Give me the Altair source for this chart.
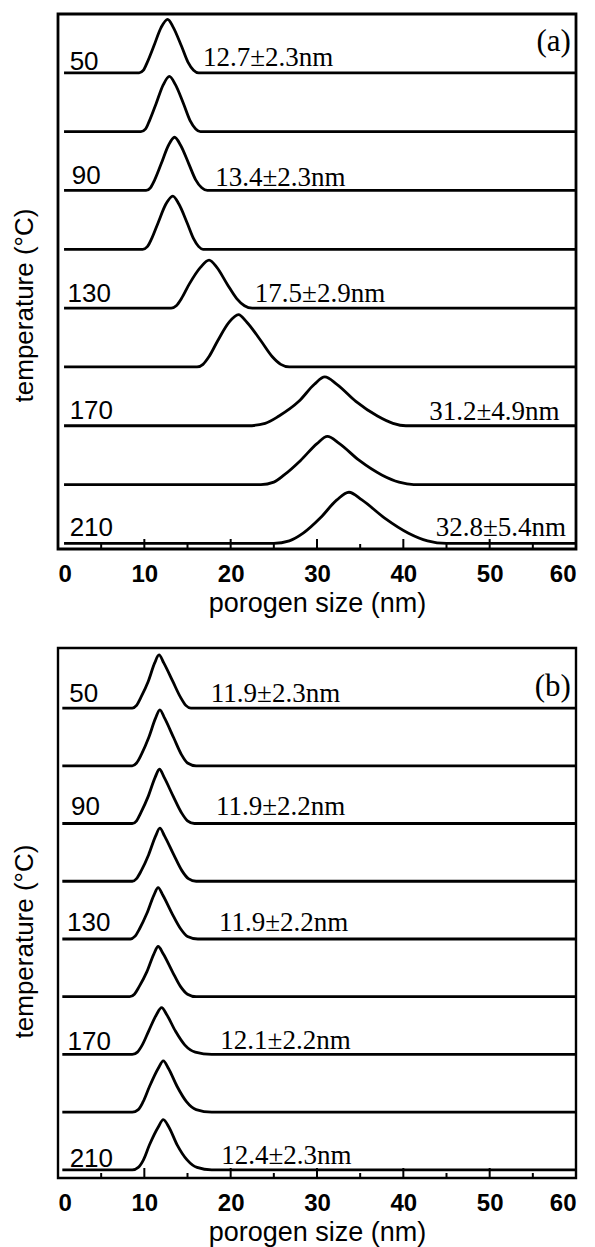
import altair as alt
import pandas as pd

# ---------------- data ----------------
offsets = [8, 7, 6, 5, 4, 3, 2, 1, 0]
rel_h = [0, 0.05, 0.2, 0.5, 0.85, 1, 0.85, 0.5, 0.2, 0.05, 0]

# panel (a): x positions (nm) of each curve at the relative heights above
xs_a = [
    [9.4, 9.9, 10.35, 11.1, 11.95, 12.7, 13.35, 14.3, 15.05, 15.7, 16.3],
    [9.6, 10.15, 10.6, 11.35, 12.2, 12.9, 13.6, 14.55, 15.3, 15.95, 16.5],
    [10.2, 10.7, 11.2, 11.95, 12.8, 13.5, 14.2, 15.15, 15.95, 16.65, 17.3],
    [9.8, 10.35, 10.85, 11.6, 12.5, 13.3, 14.0, 14.95, 15.7, 16.3, 16.8],
    [13.1, 13.7, 14.3, 15.2, 16.5, 17.5, 18.4, 19.6, 20.7, 21.6, 22.5],
    [16.1, 16.8, 17.5, 18.5, 19.8, 20.9, 21.9, 23.5, 24.8, 25.8, 26.8],
    [22.0, 24.0, 25.6, 27.9, 29.7, 30.9, 32.3, 34.5, 37.0, 38.8, 40.3],
    [23.5, 25.0, 26.2, 28.1, 30.0, 31.2, 32.6, 34.9, 37.5, 39.5, 41.2],
    [25.0, 26.8, 28.4, 30.4, 32.3, 33.7, 35.2, 37.8, 40.6, 42.8, 45.0],
]
peak_a = [0.91, 0.94, 0.905, 0.905, 0.815, 0.89, 0.83, 0.82, 0.87]
start_a = 0.7

xs_b = [
    [8.6, 9.1, 9.6, 10.45, 11.2, 11.7, 12.25, 13.3, 14.2, 14.8, 15.4],
    [8.6, 9.1, 9.65, 10.5, 11.3, 11.8, 12.35, 13.4, 14.3, 15.0, 16.0],
    [8.6, 9.1, 9.6, 10.45, 11.25, 11.75, 12.3, 13.35, 14.3, 15.0, 15.8],
    [8.6, 9.1, 9.65, 10.5, 11.3, 11.8, 12.35, 13.4, 14.35, 15.1, 16.0],
    [8.4, 8.9, 9.45, 10.3, 11.1, 11.6, 12.15, 13.2, 14.2, 15.0, 16.2],
    [8.3, 8.85, 9.4, 10.3, 11.1, 11.6, 12.2, 13.25, 14.2, 15.0, 16.0],
    [8.6, 9.2, 9.75, 10.5, 11.4, 12.0, 12.6, 13.6, 14.7, 15.9, 17.8],
    [8.6, 9.3, 9.85, 10.6, 11.6, 12.2, 12.8, 13.8, 14.9, 16.0, 17.8],
    [8.6, 9.3, 9.9, 10.6, 11.6, 12.2, 12.85, 13.8, 14.95, 16.1, 17.8],
]
peak_b = [0.92, 0.97, 0.94, 0.92, 0.89, 0.87, 0.81, 0.89, 0.87]
start_b = 0.5

temps = ["50", "90", "130", "170", "210"]
temp_x_a = [1.35, 1.6, 1.1, 1.35, 1.35]
temp_y_a = [8.05, 6.11, 4.1, 2.12, 0.13]
temp_x_b = [1.3, 1.5, 1.05, 1.1, 1.35]
temp_y_b = [8.1, 6.14, 4.14, 2.07, 0.05]

ann_a = ["12.7±2.3nm", "13.4±2.3nm", "17.5±2.9nm", "31.2±4.9nm", "32.8±5.4nm"]
ann_x_a = [16.8, 18.2, 22.8, 43.0, 43.75]
ann_y_a = [8.12, 6.08, 4.1, 2.1, 0.13]
ann_b = ["11.9±2.3nm", "11.9±2.2nm", "11.9±2.2nm", "12.1±2.2nm", "12.4±2.3nm"]
ann_x_b = [17.7, 18.3, 18.65, 18.8, 18.9]
ann_y_b = [8.1, 6.14, 4.13, 2.09, 0.1]

panel_tags = ["(a)", "(b)"]
tag_x = [59.4, 59.4]
tag_y = [8.37, 8.2]

x_ticks_major = [0, 10, 20, 30, 40, 50, 60]
x_ticks_minor = [5, 15, 25, 35, 45, 55]

W = 518


def curves_df(xs_list, peaks, start):
    rows = []
    for i, (xs, h) in enumerate(zip(xs_list, peaks)):
        pts = [(start, 0.0)] + [(x, h * r) for x, r in zip(xs, rel_h)] + [(60.0, 0.0)]
        for k, (x, y) in enumerate(pts):
            rows.append({"curve": i, "k": k, "x": x, "y": offsets[i] + y})
    return pd.DataFrame(rows)


def panel(xs_list, peaks, start, tx, ty, ax, ay, atext, tag, tgx, tgy,
          ydom, H, frame_w, title_y):
    xscale = alt.Scale(domain=[0, 60], nice=False, zero=False)
    yscale = alt.Scale(domain=ydom, nice=False, zero=False)
    xaxis = alt.Axis(values=x_ticks_major, format="d", ticks=False, domain=False,
                     grid=False, labelFont="Liberation Sans", labelFontSize=24,
                     labelFontWeight="bold",
                     labelColor="black", labelPadding=13,
                     title="porogen size (nm)", titleFont="Liberation Sans",
                     titleFontSize=27, titleFontWeight="normal", titleColor="black",
                     titlePadding=4)
    yaxis = alt.Axis(labels=False, ticks=False, domain=False, grid=False,
                     title="temperature (°C)", titleFont="Liberation Sans",
                     titleFontSize=26, titleFontWeight="normal", titleColor="black",
                     titleX=-21, titleY=title_y)
    base_x = alt.X("x:Q", scale=xscale, axis=xaxis)
    base_y = alt.Y("y:Q", scale=yscale, axis=yaxis)

    lines = alt.Chart(curves_df(xs_list, peaks, start)).mark_line(
        color="black", strokeWidth=2.8, interpolate="monotone"
    ).encode(x=base_x, y=base_y, detail="curve:N", order="k:Q")

    tdf = pd.DataFrame({"x": tx, "y": ty, "t": temps})
    tlab = alt.Chart(tdf).mark_text(
        align="left", baseline="alphabetic", font="Liberation Sans",
        fontSize=26, color="black"
    ).encode(x="x:Q", y="y:Q", text="t:N")

    adf = pd.DataFrame({"x": ax, "y": ay, "t": atext})
    alab = alt.Chart(adf).mark_text(
        align="left", baseline="alphabetic", font="Liberation Serif",
        fontSize=27, color="black"
    ).encode(x="x:Q", y="y:Q", text="t:N")

    gdf = pd.DataFrame({"x": [tgx], "y": [tgy], "t": [tag]})
    glab = alt.Chart(gdf).mark_text(
        align="right", baseline="alphabetic", font="Liberation Serif",
        fontSize=31, color="black"
    ).encode(x="x:Q", y="y:Q", text="t:N")

    major = alt.Chart(pd.DataFrame({"x": x_ticks_major})).mark_rule(
        color="black", strokeWidth=2
    ).encode(x="x:Q", y=alt.value(H), y2=alt.value(H - 10))
    minor = alt.Chart(pd.DataFrame({"x": x_ticks_minor})).mark_rule(
        color="black", strokeWidth=2
    ).encode(x="x:Q", y=alt.value(H), y2=alt.value(H - 5))

    return alt.layer(lines, major, minor, tlab, alab, glab).properties(
        width=W, height=H,
        view=alt.ViewBackground(stroke="black", strokeWidth=frame_w),
    )


pa = panel(xs_a, peak_a, start_a, temp_x_a, temp_y_a, ann_x_a, ann_y_a, ann_a,
           panel_tags[0], tag_x[0], tag_y[0], [-0.095, 9.0], 535, 2.8, 291)
pb = panel(xs_b, peak_b, start_b, temp_x_b, temp_y_b, ann_x_b, ann_y_b, ann_b,
           panel_tags[1], tag_x[1], tag_y[1], [-0.14, 9.04], 530, 2.4, 293)

chart = alt.vconcat(pa, pb, spacing=28).properties(
    padding={"left": 1, "top": 4, "right": 2, "bottom": 0}
).configure_view(stroke="black")

chart.save("out.html", embed_options={"renderer": "svg", "actions": False})
